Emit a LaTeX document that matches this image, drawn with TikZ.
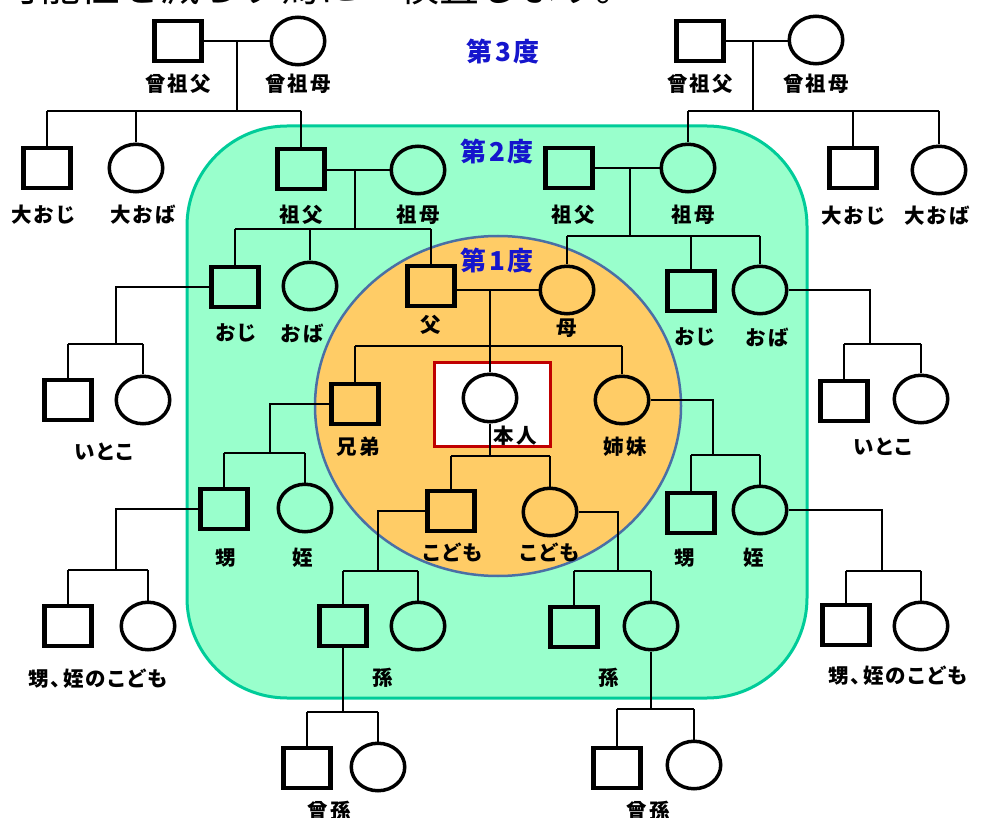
\documentclass[tikz,border=0pt]{standalone}
\usepackage{fontspec}
\setmainfont{Noto Sans CJK JP}[LetterSpace=10,RawFeature=+palt]
\newfontfamily\hdrfont{Noto Sans CJK JP}
\usetikzlibrary{shapes.geometric}
\definecolor{grfill}{HTML}{99FFCC}
\definecolor{grline}{HTML}{00CC99}
\definecolor{orfill}{HTML}{FFCC66}
\definecolor{orline}{HTML}{4A6FA5}
\definecolor{redline}{HTML}{C00000}
\definecolor{degblue}{HTML}{1515CC}
\begin{document}
\begin{tikzpicture}[x=1pt,y=-1pt,
  sq/.style={draw, rectangle, line width=4.6pt, minimum width=46.5pt, minimum height=40pt, inner sep=0pt},
  ci/.style={draw, ellipse, line width=3.5pt, minimum width=53.5pt, minimum height=47.5pt, inner sep=0pt},
  lab/.style={font=\fontsize{20.5}{22}\selectfont\bfseries, inner sep=0pt},
  deg/.style={font=\fontsize{26}{28}\selectfont\bfseries, text=degblue, inner sep=0pt},
  conn/.style={line width=1.9pt}]
\useasboundingbox (0,0) rectangle (983,818);
\fill[white] (0,0) rectangle (983,818);
% regions
\draw[grline, fill=grfill, line width=3pt, rounded corners=100pt] (187,126) rectangle (807,698);
\draw[orline, fill=orfill, line width=2.5pt] (498,406) ellipse [x radius=183, y radius=170];
\node (rb) [draw=redline, line width=3pt, fill=white, minimum width=116pt, minimum height=84pt, inner sep=0pt] at (492.5,404.5) {};
% header (clipped)
\node (hdr) [anchor=base west, inner sep=0pt, font=\hdrfont\fontsize{40}{44}\selectfont] at (0,2) {可能性を減らす為に　検査します。};
% degree labels
\node (d3) [deg] at (503,52) {第3度};
\node (d2) [deg] at (497,152) {第2度};
\node (d1) [deg] at (497,261) {第1度};
% persons
\node (gfL) [sq] at (178,41) {};
\node (gmL) [ci] at (298,41) {};
\node (uoL) [sq] at (47,168) {};
\node (uaL) [ci] at (136,168) {};
\node (sfL) [sq] at (301,169) {};
\node (smL) [ci] at (418,170) {};
\node (ojL) [sq] at (235,287) {};
\node (obL) [ci] at (310,286) {};
\node (fa) [sq] at (431,286) {};
\node (mo) [ci] at (567,290) {};
\node (cL1) [sq] at (68,400) {};
\node (cL2) [ci] at (143,400) {};
\node (br) [sq] at (355,404) {};
\node (si) [ci] at (622,400) {};
\node (me) [ci, fill=white] at (490,398) {};
\node (k1) [sq] at (451,511) {};
\node (k2) [ci] at (550,512) {};
\node (nL1) [sq] at (224,509) {};
\node (nL2) [ci] at (305,508) {};
\node (nR1) [sq] at (691,513) {};
\node (nR2) [ci] at (760,510) {};
\node (nkL1) [sq] at (68,626) {};
\node (nkL2) [ci] at (148,626) {};
\node (nkR1) [sq] at (846,625) {};
\node (nkR2) [ci] at (921,626) {};
\node (gcL1) [sq] at (343,626) {};
\node (gcL2) [ci] at (418,626) {};
\node (gcR1) [sq] at (574,627) {};
\node (gcR2) [ci] at (651,626) {};
\node (ggL1) [sq] at (307,768) {};
\node (ggL2) [ci] at (378,767) {};
\node (ggR1) [sq] at (617,768) {};
\node (ggR2) [ci] at (694,765) {};
\node (gfR) [sq] at (700,41) {};
\node (gmR) [ci] at (816,40) {};
\node (sfR) [sq] at (569,168) {};
\node (smR) [ci] at (688,168) {};
\node (uoR) [sq] at (853,168) {};
\node (uaR) [ci] at (939,170) {};
\node (ojR) [sq] at (691,291) {};
\node (obR) [ci] at (760,290) {};
\node (cR1) [sq] at (844,401) {};
\node (cR2) [ci] at (921,399) {};
% junctions
\coordinate (j1) at (237,111);
\coordinate (j2) at (355,229);
\coordinate (j3) at (753,111);
\coordinate (j4) at (630,236);
\coordinate (j5) at (490,346);
\coordinate (j6) at (490,456);
\coordinate (cj1) at (116,344);
\coordinate (cj2) at (870,344);
\coordinate (nj1) at (270,453);
\coordinate (nj2) at (713,455);
\coordinate (nkj1) at (116,570);
\coordinate (nkj2) at (882,571);
\coordinate (gj1) at (378,571);
\coordinate (gj2) at (618,571);
\coordinate (ggj1) at (343,712);
\coordinate (ggj2) at (651,709);
% connectors
\begin{scope}[conn]
% great-grandparents left
\draw (gfL.east) -- (gmL.west);
\draw (gfL.east -| j1) -- (j1);
\draw (uoL.north |- j1) -- (sfL.north |- j1);
\draw (uoL.north |- j1) -- (uoL.north);
\draw (uaL.north |- j1) -- (uaL.north);
\draw (sfL.north |- j1) -- (sfL.north);
% grandparents left
\draw (smL.west -| sfL.east) -- (smL.west);
\draw (smL.west -| j2) -- (j2);
\draw (ojL.north |- j2) -- (fa.north |- j2);
\draw (ojL.north |- j2) -- (ojL.north);
\draw (obL.north |- j2) -- (obL.north);
\draw (fa.north |- j2) -- (fa.north);
% great-grandparents right
\draw (gfR.east) -- (gfR.east -| gmR.west);
\draw (gfR.east -| j3) -- (j3);
\draw (smR.north |- j3) -- (uaR.north |- j3);
\draw (smR.north |- j3) -- (smR.north);
\draw (uoR.north |- j3) -- (uoR.north);
\draw (uaR.north |- j3) -- (uaR.north);
% grandparents right
\draw (sfR.east) -- (smR.west);
\draw (sfR.east -| j4) -- (j4);
\draw (mo.north |- j4) -- (obR.north |- j4);
\draw (mo.north |- j4) -- (mo.north);
\draw (ojR.north |- j4) -- (ojR.north);
\draw (obR.north |- j4) -- (obR.north);
% parents
\draw (mo.west -| fa.east) -- (mo.west);
\draw (mo.west -| me.north) -- (me.north);
\draw (br.north |- j5) -- (si.north |- j5);
\draw (br.north |- j5) -- (br.north);
\draw (si.north |- j5) -- (si.north);
% children
\draw (me.south) -- (j6);
\draw (k1.north |- j6) -- (k2.north |- j6);
\draw (k1.north |- j6) -- (k1.north);
\draw (k2.north |- j6) -- (k2.north);
% cousins
\draw (ojL.west) -| (cj1);
\draw (cL1.north |- cj1) -- (cL2.north |- cj1);
\draw (cL1.north |- cj1) -- (cL1.north);
\draw (cL2.north |- cj1) -- (cL2.north);
\draw (obR.east) -| (cj2);
\draw (cR1.north |- cj2) -- (cR2.north |- cj2);
\draw (cR1.north |- cj2) -- (cR1.north);
\draw (cR2.north |- cj2) -- (cR2.north);
% nephews
\draw (br.west) -| (nj1);
\draw (nL1.north |- nj1) -- (nL2.north |- nj1);
\draw (nL1.north |- nj1) -- (nL1.north);
\draw (nL2.north |- nj1) -- (nL2.north);
\draw (si.east) -| (nj2);
\draw (nR1.north |- nj2) -- (nR2.north |- nj2);
\draw (nR1.north |- nj2) -- (nR1.north);
\draw (nR2.north |- nj2) -- (nR2.north);
% nephews' children
\draw (nL1.west) -| (nkj1);
\draw (nkL1.north |- nkj1) -- (nkL2.north |- nkj1);
\draw (nkL1.north |- nkj1) -- (nkL1.north);
\draw (nkL2.north |- nkj1) -- (nkL2.north);
\draw (nR2.east) -| (nkj2);
\draw (nkR1.north |- nkj2) -- (nkR2.north |- nkj2);
\draw (nkR1.north |- nkj2) -- (nkR1.north);
\draw (nkR2.north |- nkj2) -- (nkR2.north);
% grandchildren
\draw (k1.west) -| (gj1);
\draw (gcL1.north |- gj1) -- (gcL2.north |- gj1);
\draw (gcL1.north |- gj1) -- (gcL1.north);
\draw (gcL2.north |- gj1) -- (gcL2.north);
\draw (k2.east) -| (gj2);
\draw (gcR1.north |- gj2) -- (gcR2.north |- gj2);
\draw (gcR1.north |- gj2) -- (gcR1.north);
\draw (gcR2.north |- gj2) -- (gcR2.north);
% great-grandchildren
\draw (gcL1.south) -- (ggj1);
\draw (ggL1.north |- ggj1) -- (ggL2.north |- ggj1);
\draw (ggL1.north |- ggj1) -- (ggL1.north);
\draw (ggL2.north |- ggj1) -- (ggL2.north);
\draw (gcR2.south) -- (ggj2);
\draw (ggR1.north |- ggj2) -- (ggR2.north |- ggj2);
\draw (ggR1.north |- ggj2) -- (ggR1.north);
\draw (ggR2.north |- ggj2) -- (ggR2.north);
\end{scope}
% labels
\node (t1) [lab] at (178,84) {曾祖父};
\node (t2) [lab] at (298,84) {曾祖母};
\node (t3) [lab] at (700,84) {曾祖父};
\node (t4) [lab] at (816,84) {曾祖母};
\node (t5) [lab] at (43,215) {大おじ};
\node (t6) [lab] at (143,215) {大おば};
\node (t7) [lab] at (301,215) {祖父};
\node (t8) [lab] at (418,215) {祖母};
\node (t9) [lab] at (573,215) {祖父};
\node (t10) [lab] at (693,215) {祖母};
\node (t11) [lab] at (853,216) {大おじ};
\node (t12) [lab] at (937,216) {大おば};
\node (t13) [lab] at (236,333) {おじ};
\node (t14) [lab] at (302,333) {おば};
\node (t15) [lab] at (431,325) {父};
\node (t16) [lab] at (567,328) {母};
\node (t17) [lab] at (695,337) {おじ};
\node (t18) [lab] at (767,337) {おば};
\node (t19) [lab] at (104,452) {いとこ};
\node (t20) [lab] at (883,447) {いとこ};
\node (t21) [lab] at (358,447) {兄弟};
\node (t22) [lab] at (625,447) {姉妹};
\node (t23) [lab] at (515,436) {本人};
\node (t24) [lab] at (226,558) {甥};
\node (t25) [lab] at (303,558) {姪};
\node (t26) [lab] at (685,558) {甥};
\node (t27) [lab] at (754,558) {姪};
\node (t28) [lab] at (453,552) {こども};
\node (t29) [lab] at (550,552) {こども};
\node (t30) [lab] at (98,679) {甥、姪のこども};
\node (t31) [lab] at (898,676) {甥、姪のこども};
\node (t32) [lab] at (383,678) {孫};
\node (t33) [lab] at (609,678) {孫};
\node (t34) [lab] at (329,811) {曾孫};
\node (t35) [lab] at (648,811) {曾孫};
\end{tikzpicture}
\end{document}
